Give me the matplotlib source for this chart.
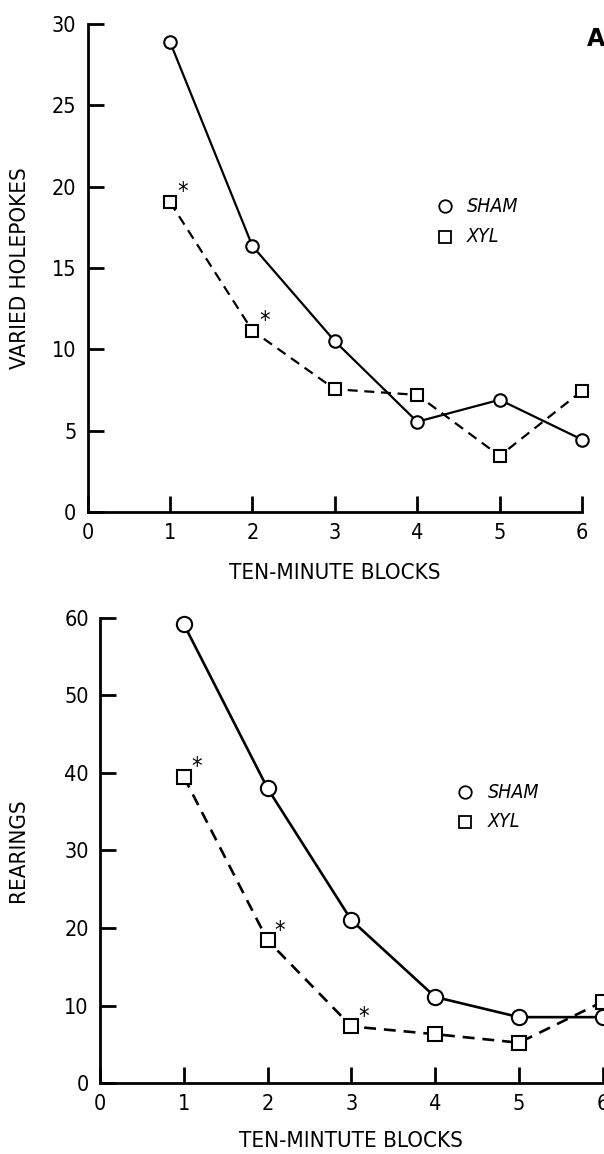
import matplotlib
matplotlib.use("Agg")
import matplotlib.pyplot as plt
import numpy as np

plt.rcParams['font.family'] = ['DejaVu Sans']
plt.rcParams['font.stretch'] = 'condensed'

blocks = [1, 2, 3, 4, 5, 6]

# panel A: varied holepokes
sham_a = [28.9, 16.35, 10.5, 5.55, 6.9, 4.45]
xyl_a = [19.05, 11.15, 7.55, 7.2, 3.45, 7.45]
stars_a = [1, 2]

# panel B: rearings
sham_b = [59.2, 38.0, 21.0, 11.1, 8.5, 8.5]
xyl_b = [39.5, 18.4, 7.3, 6.3, 5.2, 10.5]
stars_b = [1, 2, 3]

fig = plt.figure(figsize=(6.04, 11.54), dpi=100)


def panel(rect, sham, xyl, stars, ymax, ystep, ylabel, xlabel, letter, leg_pos,
          ypad, xpad, ms, lw):
    ax = fig.add_axes(rect)
    ax.plot(blocks, sham, '-', color='black', lw=lw, marker='o', ms=ms,
            mfc='white', mec='black', mew=1.5, clip_on=False, zorder=3)
    ax.plot(blocks, xyl, '--', color='black', lw=lw, dashes=(4.5, 3), marker='s',
            ms=ms - 0.5, mfc='white', mec='black', mew=1.5, clip_on=False, zorder=3)
    for b in stars:
        ax.annotate('*', (b, xyl[b - 1]), xytext=(9, 7), textcoords='offset points',
                    fontsize=17, ha='center', va='center')
    ax.set_xlim(0, 6)
    ax.set_ylim(0, ymax)
    ax.set_xticks(np.arange(0, 7))
    ax.set_yticks(np.arange(0, ymax + 1, ystep))
    for s in ['top', 'right']:
        ax.spines[s].set_visible(False)
    for s in ['left', 'bottom']:
        ax.spines[s].set_linewidth(2)
    ax.tick_params(direction='in', length=11.5, width=2, labelsize=15.5)
    ax.tick_params(axis='y', pad=8)
    ax.tick_params(axis='x', pad=8)
    ax.set_ylabel(ylabel, fontsize=16, labelpad=ypad)
    ax.set_xlabel(xlabel, fontsize=16, labelpad=xpad)
    ax.text(1.01, 0.97, letter, transform=ax.transAxes, fontsize=17,
            fontweight='bold', fontstretch='normal', ha='left', va='center')
    lx, ly = leg_pos
    ax.plot([lx], [ly[0]], 'o', ms=9, mfc='white', mec='black', mew=1.3,
            transform=ax.transAxes)
    ax.plot([lx], [ly[1]], 's', ms=8.5, mfc='white', mec='black', mew=1.3,
            transform=ax.transAxes)
    ax.text(lx + 0.045, ly[0], 'SHAM', style='italic', fontsize=14,
            transform=ax.transAxes, va='center')
    ax.text(lx + 0.045, ly[1], 'XYL', style='italic', fontsize=14,
            transform=ax.transAxes, va='center')
    return ax


panel([0.145, 0.5563, 0.8187, 0.4229], sham_a, xyl_a, stars_a, 30, 5,
      'VARIED HOLEPOKES', 'TEN-MINUTE BLOCKS', 'A', (0.722, (0.627, 0.564)),
      16, 14, 9, 1.6)
panel([0.1656, 0.0615, 0.8325, 0.403], sham_b, xyl_b, stars_b, 60, 10,
      'REARINGS', 'TEN-MINTUTE BLOCKS', 'B', (0.726, (0.625, 0.562)),
      26, 12, 11, 1.9)

fig.savefig('out.png', dpi=100)
